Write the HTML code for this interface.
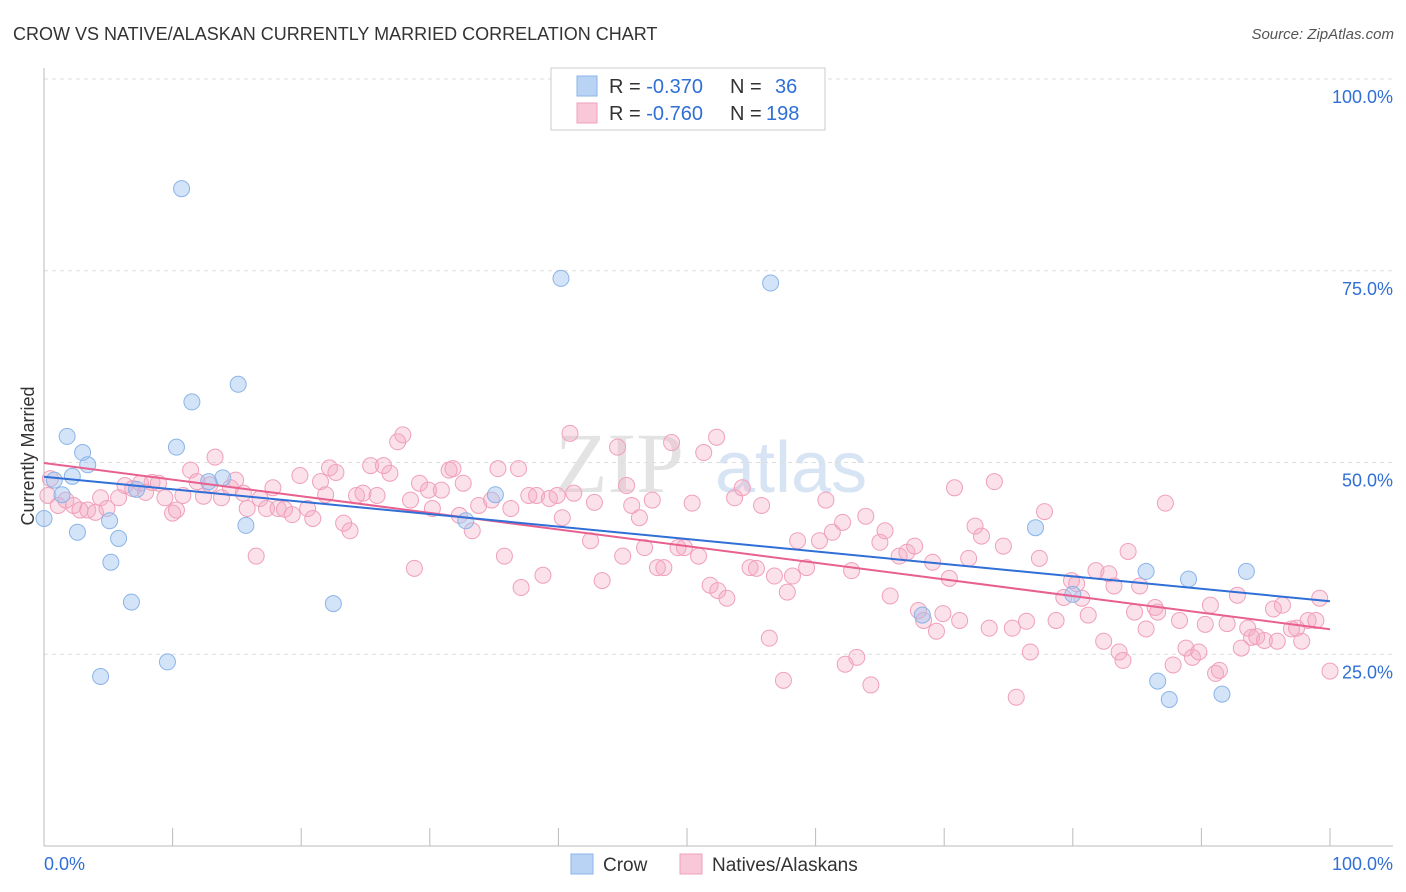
<!DOCTYPE html>
<html><head><meta charset="utf-8"><style>
body{margin:0;background:#fff;font-family:"Liberation Sans",sans-serif;}
#wrap{position:relative;width:1406px;height:892px;overflow:hidden;}
</style></head><body>
<div id="wrap">
<svg id="svg" width="1406" height="892" xmlns="http://www.w3.org/2000/svg">
<text x="13" y="40" font-size="18" fill="#333">CROW VS NATIVE/ALASKAN CURRENTLY MARRIED CORRELATION CHART</text>
<text x="1394" y="39" font-size="15" fill="#555" font-style="italic" text-anchor="end">Source: ZipAtlas.com</text>
<text transform="translate(34,456) rotate(-90)" font-size="18" fill="#333" text-anchor="middle">Currently Married</text>
<g><text x="555" y="492" font-size="86" fill="#d8d8d8" font-family="Liberation Serif,serif" opacity="0.7">ZIP</text><text x="715" y="492" font-size="72" fill="#bcd3ee" opacity="0.6">atlas</text></g>
<g id="grid"></g><g id="pts"></g><g id="lines"></g>
<g>
<rect x="551" y="68" width="274" height="62" fill="#fff" stroke="#ccc"/>
<rect x="577" y="76" width="20" height="20" fill="#b9d3f5" stroke="#8ab4e8"/>
<rect x="577" y="103" width="20" height="20" fill="#f8c8d8" stroke="#f0a0bb"/>
<text x="609" y="93" font-size="20" fill="#333">R = <tspan fill="#2f6fd6">-0.370</tspan><tspan x="730">N = </tspan><tspan x="775" fill="#2f6fd6">36</tspan></text>
<text x="609" y="120" font-size="20" fill="#333">R = <tspan fill="#2f6fd6">-0.760</tspan><tspan x="730">N = </tspan><tspan x="766" fill="#2f6fd6">198</tspan></text>
</g>
<g>
<rect x="571" y="854" width="22" height="20" fill="#b9d3f5" stroke="#8ab4e8"/>
<text x="603" y="871" font-size="19" fill="#333">Crow</text>
<rect x="680" y="854" width="22" height="20" fill="#f8c8d8" stroke="#f0a0bb"/>
<text x="712" y="871" font-size="19" fill="#333">Natives/Alaskans</text>
</g>
<text x="44" y="870" font-size="18" fill="#2f6fd6">0.0%</text>
<text x="1393" y="870" font-size="18" fill="#2f6fd6" text-anchor="end">100.0%</text>
</svg></div>
<script>
const yTicks=[100,75,50,25];
const yTickLabels=["100.0%","75.0%","50.0%","25.0%"];
const crowX=[10.7,40.2,56.5,15.1,11.5,1.8,10.3,3.0,3.4,2.2,13.9,12.8,0.8,1.4,7.2,35.1,5.1,0,15.7,2.6,5.8,5.2,6.8,22.5,9.6,4.4,32.8,77.1,85.7,89.0,93.5,68.3,80.0,86.6,87.5,91.6];
const crowY=[85.7,74.0,73.4,60.2,57.9,53.4,52.0,51.3,49.7,48.2,48.0,47.5,47.7,45.8,46.5,45.8,42.4,42.7,41.8,40.9,40.1,37.0,31.8,31.6,24.0,22.1,42.4,41.5,35.8,34.8,35.8,30.1,32.8,21.5,19.1,19.8];
const natX=[0.5,0.3,1.1,1.7,2.3,2.8,3.4,4.0,4.4,4.9,5.8,6.3,6.9,7.5,7.9,8.4,8.9,9.4,10.0,10.3,10.8,11.4,11.9,12.4,12.9,13.3,13.8,14.5,14.9,15.5,15.8,16.5,16.8,17.3,17.8,18.2,18.7,19.3,19.9,20.5,20.9,21.5,21.9,22.2,22.7,23.3,23.8,24.3,24.8,25.4,25.9,26.4,26.9,27.5,27.9,28.8,28.5,29.2,29.9,30.2,30.9,31.5,31.8,32.6,32.3,33.3,33.8,34.8,35.3,35.8,36.3,36.9,37.1,37.7,38.3,38.8,39.3,39.9,40.3,40.9,41.2,42.5,42.8,43.4,44.6,45.0,45.3,45.7,46.3,46.7,47.3,47.7,48.2,48.8,49.3,49.8,50.4,50.9,51.3,52.3,51.8,52.4,53.1,53.7,54.3,54.9,55.4,55.8,56.4,56.8,57.5,57.8,58.2,58.6,59.3,60.3,60.8,61.3,62.1,62.3,63.2,62.8,63.9,64.3,65.0,65.4,65.8,66.5,67.1,67.7,68.0,68.4,69.1,69.4,69.9,70.4,70.8,71.2,71.9,72.4,72.9,73.5,73.9,74.6,75.6,75.3,76.4,76.7,77.4,77.8,78.7,79.3,79.9,80.3,80.7,81.2,81.8,82.4,82.8,83.2,83.6,83.9,84.3,84.8,85.2,85.7,86.4,86.6,87.2,87.8,88.3,88.8,89.3,89.8,90.3,90.7,91.1,91.4,92.0,92.8,93.1,93.6,93.9,94.3,94.9,95.6,95.9,96.3,97.0,97.4,97.8,98.3,98.9,99.2,100];
const natY=[47.9,45.7,44.4,45.1,44.4,43.8,43.8,43.5,45.4,44.0,45.4,47.0,46.6,47.3,46.1,47.4,47.3,45.4,43.4,43.8,45.7,49.0,47.5,45.6,47.1,50.7,45.4,46.7,47.7,46.0,44.0,37.8,45.3,44.0,46.7,44.0,43.9,43.2,48.3,44.0,42.7,47.5,45.8,49.3,48.7,42.1,41.1,45.7,46.0,49.6,45.7,49.6,48.6,52.7,53.6,36.2,45.1,47.3,46.4,44.0,46.4,49.0,49.2,47.3,43.1,41.1,44.4,45.1,49.2,37.8,44.0,49.2,33.7,45.7,45.7,35.3,45.3,45.7,42.8,53.8,46.0,39.8,44.8,34.6,52.0,37.8,47.0,44.4,42.8,38.9,45.1,36.3,36.3,52.6,38.9,38.9,44.7,37.8,51.3,53.3,34.0,33.3,32.3,45.4,46.7,36.3,36.2,44.4,27.1,35.2,21.6,33.1,35.2,39.8,36.3,39.8,45.1,40.9,42.2,23.7,24.6,35.9,43.0,21.0,39.6,41.1,32.6,37.8,38.3,39.1,30.7,29.4,37.0,28.0,30.3,34.9,46.7,29.4,37.5,41.7,40.4,28.4,47.5,39.1,19.4,28.4,29.3,25.3,37.5,43.6,29.4,32.4,34.6,34.2,32.3,30.1,35.9,26.7,35.5,33.9,25.3,24.2,38.4,30.5,33.9,28.3,31.1,30.5,44.7,23.6,29.4,25.8,24.6,25.3,28.9,31.4,22.5,22.9,29.0,32.7,25.8,28.4,27.2,27.3,26.8,30.9,26.7,31.4,28.3,28.4,26.7,29.4,29.4,32.3,22.8];
const NS="http://www.w3.org/2000/svg";
const X0=44,X1=1330,YB=846,YT=79;
const sx=v=>X0+(X1-X0)*v/100, sy=v=>YB-(YB-YT)*v/100;
function mk(tag,attrs,parent){const e=document.createElementNS(NS,tag);for(const k in attrs)e.setAttribute(k,attrs[k]);parent.appendChild(e);return e;}
const grid=document.getElementById('grid');
yTicks.forEach((t,i)=>{
 const l=mk('line',{x1:44,x2:1393,y1:sy(t),y2:sy(t),stroke:'#ddd','stroke-dasharray':'4,4'},grid);
 
 
 const tx=mk('text',{x:1393,y:sy(t)+24,'font-size':18,fill:'#2f6fd6','text-anchor':'end'},grid);
 tx.textContent=yTickLabels[i];
 
 
});
const ax=mk('line',{x1:44,x2:44,y1:68,y2:846,stroke:'#bbb'},grid);


const bx=mk('line',{x1:44,x2:1393,y1:846,y2:846,stroke:'#bbb'},grid);


for(let i=0;i<=10;i++){const t=mk('line',{x1:sx(i*10),x2:sx(i*10),y1:828,y2:846,stroke:'#bbb'},grid);
 
 }
const pts=document.getElementById('pts');
natX.forEach((x,i)=>{const c=mk('circle',{cx:sx(x),cy:sy(natY[i]),r:8,fill:'rgba(244,170,195,0.35)',stroke:'#f0a0bb','stroke-width':1},pts);
 
 });
crowX.forEach((x,i)=>{const c=mk('circle',{cx:sx(x),cy:sy(crowY[i]),r:8,fill:'rgba(160,196,240,0.45)',stroke:'#8ab4e8','stroke-width':1},pts);
 
 });
function fit(xs,ys){const n=xs.length;let mx=0,my=0;xs.forEach((x,i)=>{mx+=x;my+=ys[i];});mx/=n;my/=n;let a=0,b=0;xs.forEach((x,i)=>{a+=(x-mx)*(ys[i]-my);b+=(x-mx)*(x-mx);});const s=a/b;return [my-s*mx,s];}
const lines=document.getElementById('lines');
[[natX,natY,'#e8608f','natives-trend-line'],[crowX,crowY,'#2f6fd6','crow-trend-line']].forEach(([xs,ys,col,name])=>{
 const [b0,b1]=fit(xs,ys);
 const l=mk('line',{x1:sx(0),y1:sy(b0),x2:sx(100),y2:sy(b0+b1*100),stroke:col,'stroke-width':2},lines);
 
 
});
</script>
</body></html>
